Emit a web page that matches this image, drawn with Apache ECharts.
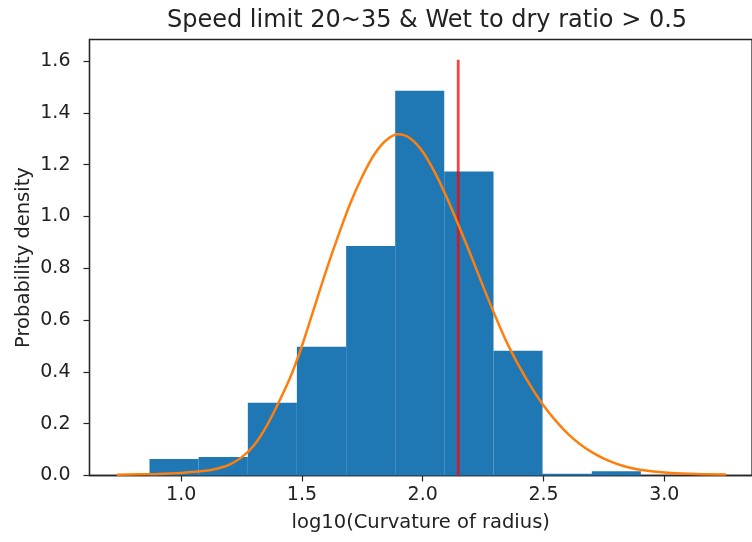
<!DOCTYPE html>
<html>
<head>
<meta charset="utf-8">
<script src="https://cdn.jsdelivr.net/npm/echarts@6/dist/echarts.min.js"></script>
<style>
html,body{margin:0;padding:0;background:#fff;}
#chart{width:752px;height:542px;}
</style>
</head>
<body>
<div id="chart"></div>
<script>
// Histogram bin edges (log10 curvature of radius)
const binEdges = [0.869, 1.072, 1.276, 1.479, 1.683, 1.886, 2.089, 2.293, 2.496, 2.700, 2.903];
// Histogram densities per bin
const densities = [0.064, 0.071, 0.281, 0.497, 0.886, 1.485, 1.173, 0.482, 0.007, 0.016];
// Fitted density curve: x values and y values
const curveX = [0.734, 0.90, 1.00, 1.10, 1.15, 1.20, 1.25, 1.30, 1.35, 1.40, 1.45, 1.50, 1.55, 1.60, 1.65, 1.70, 1.75, 1.80, 1.85, 1.90, 1.95, 2.00, 2.05, 2.10, 2.15, 2.20, 2.25, 2.30, 2.35, 2.40, 2.45, 2.50, 2.55, 2.60, 2.65, 2.70, 2.75, 2.80, 2.85, 2.90, 3.00, 3.10, 3.255];
const curveY = [0.003, 0.006, 0.010, 0.018, 0.027, 0.042, 0.070, 0.115, 0.185, 0.275, 0.375, 0.500, 0.645, 0.790, 0.925, 1.050, 1.155, 1.240, 1.295, 1.317, 1.300, 1.250, 1.170, 1.072, 0.962, 0.848, 0.730, 0.616, 0.510, 0.420, 0.340, 0.270, 0.212, 0.162, 0.122, 0.090, 0.065, 0.046, 0.032, 0.022, 0.012, 0.007, 0.004];
// Vertical marker line
const markerX = 2.147;
const markerTop = 1.605;
// Tick labels
const xTicks = [1.0, 1.5, 2.0, 2.5, 3.0];
const yTicks = [0.0, 0.2, 0.4, 0.6, 0.8, 1.0, 1.2, 1.4, 1.6];

const histData = densities.map((d, i) => [binEdges[i], binEdges[i + 1], d]);
const curveData = curveX.map((x, i) => [x, curveY[i]]);

const FONT = 'DejaVu Sans';
const chart = echarts.init(document.getElementById('chart'), null, {renderer: 'canvas'});
chart.setOption({
  animation: false,
  title: {
    text: 'Speed limit 20~35 & Wet to dry ratio > 0.5',
    left: 422, top: 4, textAlign: 'center',
    textStyle: {fontFamily: FONT, fontSize: 24, fontWeight: 'normal', color: '#222'}
  },
  grid: {left: 89.5, right: -4, top: 39.5, bottom: 66.5, show: true, borderColor: '#262626', borderWidth: 1.3, backgroundColor: 'transparent'},
  xAxis: {
    type: 'value', min: 0.6206, max: 3.363,
    name: 'log10(Curvature of radius)', nameLocation: 'middle', nameGap: 37,
    nameTextStyle: {fontFamily: FONT, fontSize: 19.5, color: '#222'},
    axisLine: {show: true, onZero: false, lineStyle: {color: '#262626', width: 1.3}},
    axisTick: {show: true, length: 6, customValues: xTicks, lineStyle: {color: '#262626', width: 1.2}},
    axisLabel: {customValues: xTicks, formatter: v => Number(v).toFixed(1), margin: 10, fontFamily: FONT, fontSize: 19, color: '#222'},
    splitLine: {show: false}
  },
  yAxis: {
    type: 'value', min: 0, max: 1.683,
    name: 'Probability density', nameLocation: 'middle', nameGap: 56, nameRotate: 90,
    nameMoveOverlap: false,
    nameTextStyle: {fontFamily: FONT, fontSize: 19.5, color: '#222'},
    axisLine: {show: true, lineStyle: {color: '#262626', width: 1.3}},
    axisTick: {show: true, length: 6, customValues: yTicks, lineStyle: {color: '#262626', width: 1.2}},
    axisLabel: {customValues: yTicks, formatter: v => Number(v).toFixed(1), margin: 19, fontFamily: FONT, fontSize: 19, color: '#222'},
    splitLine: {show: false}
  },
  series: [
    {
      type: 'custom',
      data: histData,
      encode: {x: [0, 1], y: 2},
      renderItem: function (params, api) {
        const p0 = api.coord([api.value(0), api.value(2)]);
        const p1 = api.coord([api.value(1), 0]);
        return {
          type: 'rect',
          shape: {x: p0[0], y: p0[1], width: p1[0] - p0[0], height: p1[1] - p0[1]},
          style: {fill: '#1f77b4'}
        };
      },
      z: 1
    },
    {
      type: 'line',
      data: [[markerX, 0], [markerX, markerTop]],
      showSymbol: false,
      lineStyle: {color: 'rgba(255,0,0,0.75)', width: 2.8},
      z: 2
    },
    {
      type: 'line',
      data: curveData,
      smooth: 0.3,
      showSymbol: false,
      lineStyle: {color: '#ff7f0e', width: 2.5},
      z: 3
    }
  ]
});
</script>
</body>
</html>
